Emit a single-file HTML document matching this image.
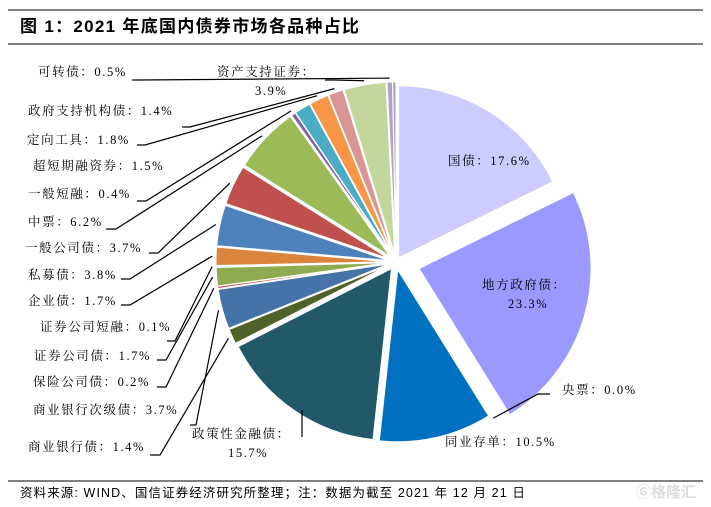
<!DOCTYPE html>
<html><head><meta charset="utf-8">
<style>
body{margin:0;background:#fff;}
#wrap{position:relative;width:711px;height:507px;overflow:hidden;background:#fff;}
svg{position:absolute;left:0;top:0;}
.lbl{font-family:"Liberation Serif","Noto Serif CJK SC",serif;font-size:12.5px;letter-spacing:1.6px;fill:#000;}
.title{font-family:"Liberation Sans","Noto Sans CJK SC",sans-serif;font-size:17px;font-weight:bold;letter-spacing:1.3px;fill:#000;}
.src{font-family:"Liberation Sans","Noto Sans CJK SC",sans-serif;font-size:12.5px;letter-spacing:1.1px;fill:#000;}
</style></head>
<body>
<div id="wrap">
<svg id="chart" width="711" height="507" viewBox="0 0 711 507">
  <line x1="8" y1="10" x2="703" y2="10" stroke="#000" stroke-width="1"/>
  <text x="20" y="32" class="title">图  1：2021 年底国内债券市场各品种占比</text>
  <line x1="8" y1="44" x2="703" y2="44" stroke="#000" stroke-width="1"/>
  <g id="slices"></g>
  <g id="leaders"></g>
  <g id="labels"></g>
  <line x1="8" y1="481" x2="703" y2="481" stroke="#000" stroke-width="1"/>
  <text x="20" y="497" class="src">资料来源: WIND、国信证券经济研究所整理；注：数据为截至 2021 年 12 月 21 日</text>
  <text x="636" y="497" font-family="Liberation Sans, Noto Sans CJK SC, sans-serif" font-size="15" font-weight="bold" fill="#ddd">Ⓖ格隆汇</text>
</svg>
</div>
<script>
const categories = ["国债","地方政府债","央票","同业存单","政策性金融债","商业银行债","商业银行次级债","保险公司债","证券公司债","证券公司短融","企业债","私募债","一般公司债","中票","一般短融","超短期融资券","定向工具","政府支持机构债","资产支持证券","可转债","其他"];
const values = [17.6,23.3,0.0,10.5,15.7,1.4,3.7,0.2,1.7,0.1,1.7,3.8,3.7,6.2,0.4,1.5,1.8,1.4,3.9,0.5,0.3];
const valueLabels = ["17.6%","23.3%","0.0%","10.5%","15.7%","1.4%","3.7%","0.2%","1.7%","0.1%","1.7%","3.8%","3.7%","6.2%","0.4%","1.5%","1.8%","1.4%","3.9%","0.5%",""];

const colors = ["#ccccff","#9999ff","#e8e8ff","#0070c0","#215968","#4f6228","#4572a7","#c0504d","#8eab4f","#4bacc6","#db843d","#4f81bd","#c0504d","#9bbb59","#8064a2","#4bacc6","#f79646","#d99694","#c3d69b","#b3a2c7","#a0a0c0"];
const explode = [5,24,8,8,8,8,8,8,8,8,8,8,8,8,8,8,8,8,8,8,8];
const CX=396, CY=262, R=172;
const NS="http://www.w3.org/2000/svg";
const total = values.reduce((a,b)=>a+b,0);
function angleOf(v){return v/total*2*Math.PI;}
function pt(cx,cy,r,a){return [cx+r*Math.sin(a), cy-r*Math.cos(a)];}

const labelPos = {
 "国债":{x:448,y:165,inside:true},
 "地方政府债":{x:482,y:289,inside:true,two:true,x2:508},
 "央票":{x:562,y:394,lx:[550,394],lead:[538,394]},
 "同业存单":{x:445,y:446,none:true},
 "政策性金融债":{x:192,y:438,two:true,x2:228,vert:[302,437]},
 "商业银行债":{x:28,y:451,lx:[150,455],lead:[160,455]},
 "商业银行次级债":{x:33,y:414,lx:[190,425],lead:[196,425]},
 "保险公司债":{x:33,y:386,lx:[157,387],lead:[166,387]},
 "证券公司债":{x:34,y:360,lx:[157,360],lead:[166,360]},
 "证券公司短融":{x:40,y:331,lx:[167,341],lead:[175,341]},
 "企业债":{x:28,y:305,lx:[121,305],lead:[130,305]},
 "私募债":{x:28,y:279,lx:[121,279],lead:[130,279]},
 "一般公司债":{x:25,y:252,lx:[149,253],lead:[158,253]},
 "中票":{x:28,y:226,lx:[106,229],lead:[116,229]},
 "一般短融":{x:28,y:198,lx:[137,201],lead:[146,201]},
 "超短期融资券":{x:33,y:170,none:true},
 "定向工具":{x:27,y:144,lx:[137,145],lead:[145,145]},
 "政府支持机构债":{x:28,y:115,lx:[182,127],lead:[190,127]},
 "资产支持证券":{x:217,y:76,two:true,x2:255,lx:[325,80],lead:[335,80]},
 "可转债":{x:38,y:76,lx:[132,80],lead:[140,80]}
};

const gS=document.getElementById('slices'), gL=document.getElementById('leaders'), gT=document.getElementById('labels');
let acc=0;
categories.forEach((c,i)=>{
  const a0=angleOf(acc), a1=angleOf(acc+values[i]); acc+=values[i];
  const mid=(a0+a1)/2;
  const ox=explode[i]*Math.sin(mid), oy=-explode[i]*Math.cos(mid);
  const cx=CX+ox, cy=CY+oy;
  const p0=pt(cx,cy,R,a0), p1=pt(cx,cy,R,a1);
  const large=(a1-a0)>Math.PI?1:0;
  const path=document.createElementNS(NS,'path');
  path.setAttribute('d',`M${cx},${cy} L${p0[0]},${p0[1]} A${R},${R} 0 ${large} 1 ${p1[0]},${p1[1]} Z`);
  path.setAttribute('fill',colors[i]);
  path.setAttribute('stroke','#fff');
  path.setAttribute('stroke-width','1');
  
  
  gS.appendChild(path);
  const L=labelPos[c];
  if(!L) return;
  const t=document.createElementNS(NS,'text');
  t.setAttribute('class','lbl');
  
  
  if(L.two){
    t.setAttribute('x',L.x);t.setAttribute('y',L.y);
    t.textContent=c+'：';
    const t2=document.createElementNS(NS,'text');
    t2.setAttribute('class','lbl');t2.setAttribute('x',L.x2);t2.setAttribute('y',L.y+19);
    t2.textContent=valueLabels[i];
    
    
    gT.appendChild(t2);
  } else {
    t.setAttribute('x',L.x);t.setAttribute('y',L.y);
    t.textContent=c+'：'+valueLabels[i];
  }
  gT.appendChild(t);
  const edge=pt(cx,cy,R+4,mid);
  if(L.lx){
    const pl=document.createElementNS(NS,'polyline');
    pl.setAttribute('points',`${L.lx[0]},${L.lx[1]} ${L.lead[0]},${L.lead[1]} ${edge[0]},${edge[1]}`);
    pl.setAttribute('fill','none');pl.setAttribute('stroke','#000');pl.setAttribute('stroke-width','1.2');
    
    
    gL.appendChild(pl);
  } else if(L.vert){
    const pl=document.createElementNS(NS,'line');
    pl.setAttribute('x1',L.vert[0]);pl.setAttribute('y1',L.vert[1]);
    pl.setAttribute('x2',L.vert[0]);pl.setAttribute('y2',410);
    pl.setAttribute('stroke','#000');pl.setAttribute('stroke-width','1.2');
    
    
    gL.appendChild(pl);
  }
});
</script>
</body></html>
